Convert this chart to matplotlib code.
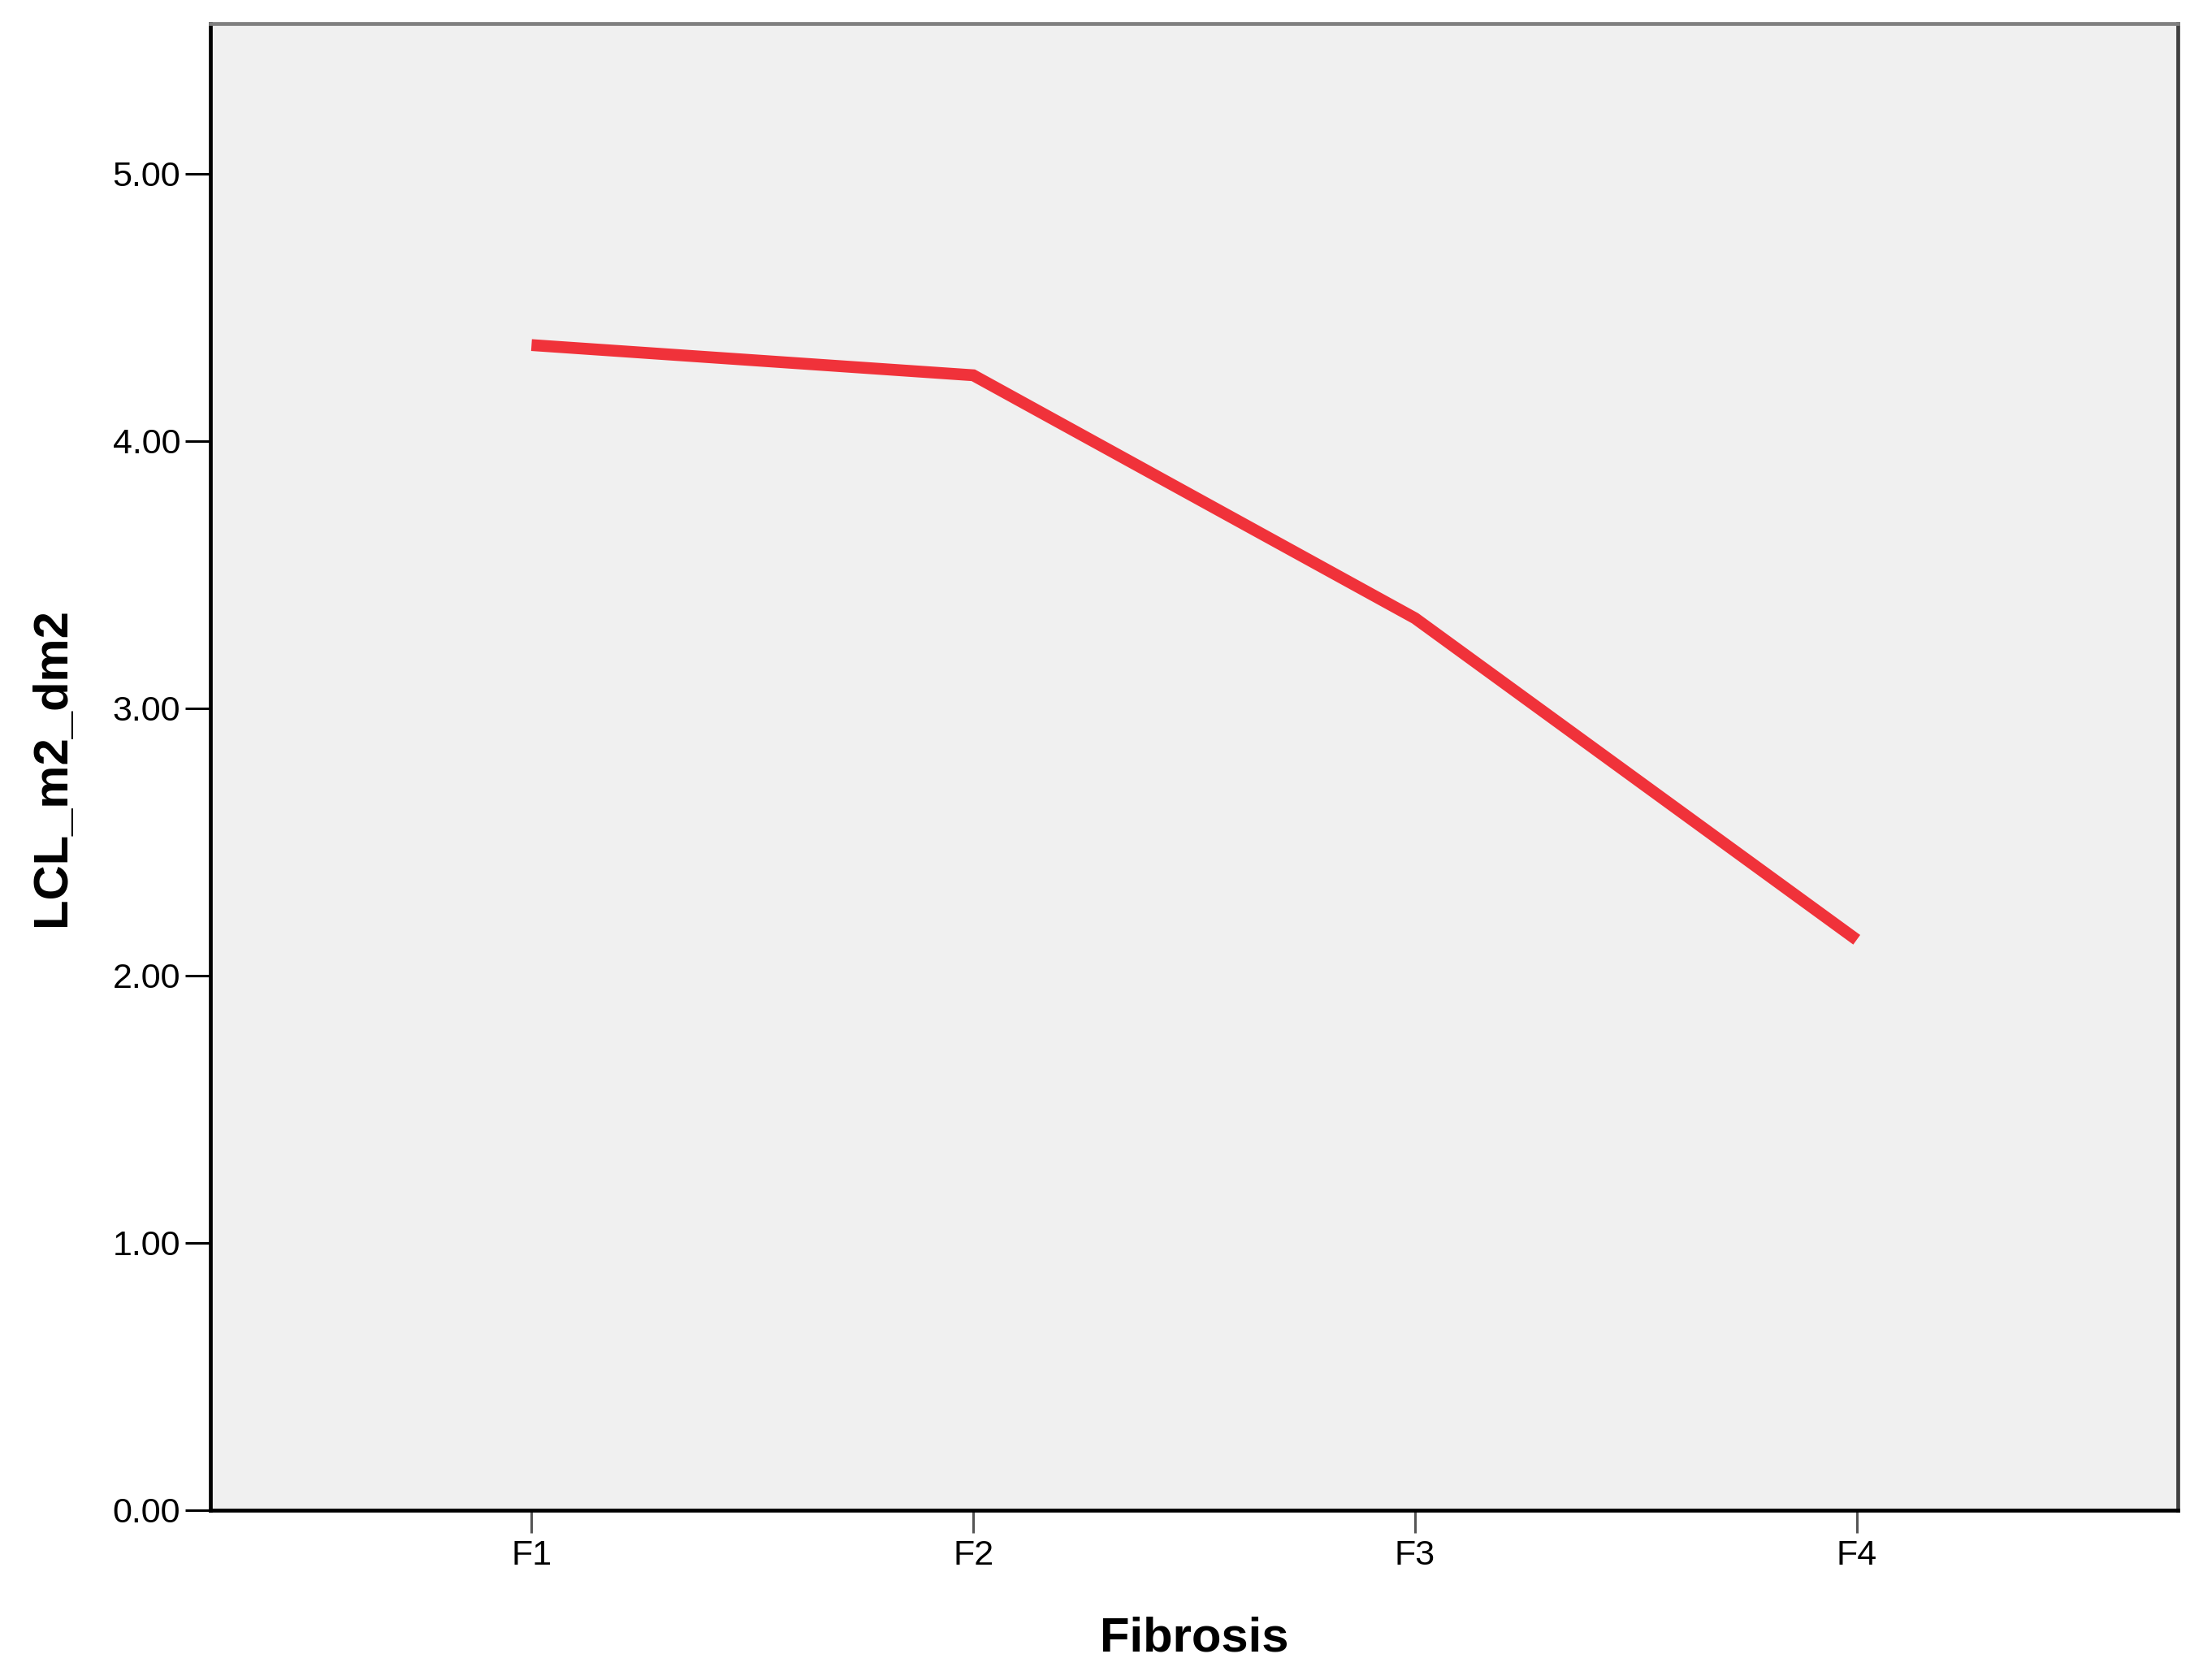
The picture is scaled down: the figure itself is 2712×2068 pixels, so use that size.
import numpy as np
import matplotlib
matplotlib.use('Agg')
import matplotlib.pyplot as plt

# values
categories = ['F1', 'F2', 'F3', 'F4']
lcl_values = [4.359, 4.246, 3.337, 2.134]
y_ticks = [0, 1, 2, 3, 4, 5]

plt.rcParams['font.family'] = ['Liberation Sans', 'DejaVu Sans']

fig = plt.figure(figsize=(27.12, 20.68), dpi=100)
ax = fig.add_axes([0.0955, 0.1011, 0.8931, 0.8849])
ax.set_facecolor('#f0f0f0')

x = np.arange(len(categories))
ax.plot(x, lcl_values, color='#f0323a', lw=10.5, solid_capstyle='butt', solid_joinstyle='miter')

ax.set_xlim(-0.727, len(categories) - 1 + 0.727)
ax.set_ylim(0, 5.562)

ax.set_xticks(x)
ax.set_xticklabels(categories)
ax.set_yticks(y_ticks)
ax.set_yticklabels([f'{v:.2f}' for v in y_ticks])

ax.tick_params(axis='y', length=22.5, width=2.2, color='black', labelsize=31, pad=4)
ax.tick_params(axis='x', length=20, width=2.2, color='#555555', labelsize=31, pad=6)

ax.spines['left'].set_linewidth(3.4)
ax.spines['bottom'].set_linewidth(3.4)
ax.spines['left'].set_color('black')
ax.spines['bottom'].set_color('black')
ax.spines['top'].set_linewidth(3.4)
ax.spines['top'].set_color('#808080')
ax.spines['right'].set_linewidth(3.4)
ax.spines['right'].set_color('#404040')

ax.set_xlabel('Fibrosis', fontsize=43, fontweight='bold')
ax.set_ylabel('LCL_m2_dm2', fontsize=43, fontweight='bold')
ax.xaxis.set_label_coords(0.5, -0.0865)
ax.xaxis.label.set_va('center')
ax.yaxis.set_label_coords(-0.0805, 0.5)
ax.yaxis.label.set_va('center')

plt.savefig('out.png', dpi=100, facecolor='white')
